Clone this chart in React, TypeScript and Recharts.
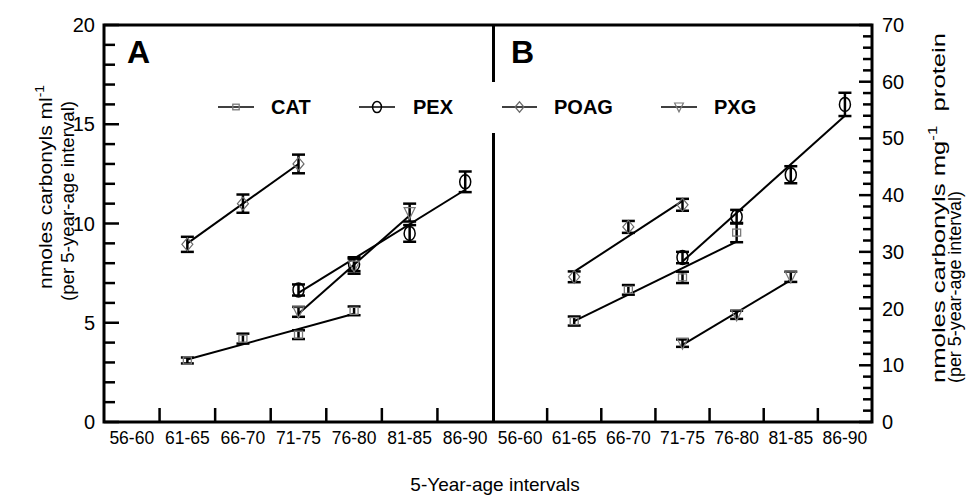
import React from "react";
import { ComposedChart, Line, XAxis, YAxis, ErrorBar } from "recharts";

const ageGroups = ["56-60", "61-65", "66-70", "71-75", "76-80", "81-85", "86-90"];
const seriesNames = ["CAT", "PEX", "POAG", "PXG"];

// panel A — nmoles carbonyls / ml, one slot per age group
const catA = [null, 3.1, 4.2, 4.4, 5.6, null, null];
const catAErr = [null, 0.15, 0.25, 0.22, 0.22, null, null];
const pexA = [null, null, null, 6.65, 7.95, 9.5, 12.1];
const pexAErr = [null, null, null, 0.28, 0.35, 0.42, 0.52];
const poagA = [null, 8.95, 11.0, 13.0, null, null, null];
const poagAErr = [null, 0.38, 0.46, 0.47, null, null, null];
const pxgA = [null, null, null, 5.55, 7.85, 10.55, null];
const pxgAErr = [null, null, null, 0.25, 0.38, 0.45, null];

// regression lines as drawn in panel A (end points only)
const catAFit = [null, 3.15, null, null, 5.45, null, null];
const pexAFit = [null, null, null, 6.5, null, null, 11.7];
const poagAFit = [null, 9.0, null, 13.0, null, null, null];
const pxgAFit = [null, null, null, 5.45, null, 10.4, null];

// panel B — nmoles carbonyls / mg protein
const catB = [null, 17.8, 23.3, 25.5, 33.4, null, null];
const catBErr = [null, 0.8, 0.85, 1.0, 1.7, null, null];
const pexB = [null, null, null, 29.0, 36.2, 43.6, 56.0];
const pexBErr = [null, null, null, 1.0, 1.2, 1.5, 2.05];
const poagB = [null, 25.6, 34.4, 38.3, null, null, null];
const poagBErr = [null, 0.95, 1.05, 1.05, null, null, null];
const pxgB = [null, null, null, 13.9, 18.9, 25.6, null];
const pxgBErr = [null, null, null, 0.65, 0.72, 0.9, null];

const catBFit = [null, 17.8, null, null, 31.8, null, null];
const pexBFit = [null, null, null, 28.3, null, null, 54.0];
const poagBFit = [null, 26.5, null, 39.0, null, null, null];
const pxgBFit = [null, null, null, 13.6, null, 25.0, null];

const leftTicks = Array.from({ length: 21 }, (_, i) => i);
const rightTicks = Array.from({ length: 36 }, (_, i) => i * 2);
const xTicks = [0.5, 1, 1.5, 2, 2.5, 3, 3.5, 4, 4.5, 5, 5.5, 6, 6.5];

const FONT = "'Liberation Sans', Arial, Helvetica, sans-serif";

function pts(vals: (number | null)[], errs?: (number | null)[]) {
  const out: { x: number; y: number; err: number }[] = [];
  vals.forEach((v, i) => {
    if (v != null) out.push({ x: i + 0.5, y: v, err: errs ? (errs[i] as number) : 0 });
  });
  return out;
}

function Marker({ kind, cx, cy, s = 1 }: { kind: string; cx: number; cy: number; s?: number }) {
  if (cx == null || cy == null) return null;
  if (kind === "CAT")
    return <rect x={cx - 4 * s} y={cy - 3.5 * s} width={8 * s} height={7 * s} fill="none" stroke="#7a7a7a" strokeWidth={1.3} />;
  if (kind === "PEX")
    return <ellipse cx={cx} cy={cy} rx={5.5 * s} ry={7 * s} fill="none" stroke="#000" strokeWidth={1.5} />;
  if (kind === "POAG")
    return (
      <path
        d={`M${cx - 5.5 * s},${cy} L${cx},${cy - 6.5 * s} L${cx + 5.5 * s},${cy} L${cx},${cy + 6.5 * s} Z`}
        fill="none"
        stroke="#6a6a6a"
        strokeWidth={1.2}
      />
    );
  return (
    <path
      d={`M${cx - 5.5 * s},${cy - 5 * s} L${cx + 5.5 * s},${cy - 5 * s} L${cx},${cy + 6 * s} Z`}
      fill="none"
      stroke="#7a7a7a"
      strokeWidth={1.2}
    />
  );
}

function XTick(p: any) {
  const v = p.payload.value;
  if (Number.isInteger(v)) {
    return <line x1={p.x} x2={p.x} y1={p.y} y2={p.y - 14} stroke="#000" strokeWidth={2.5} />;
  }
  return (
    <text x={p.x} y={p.y + 22} textAnchor="middle" fontFamily={FONT} fontSize={17.5} fill="#000">
      {ageGroups[Math.round(v - 0.5)]}
    </text>
  );
}

function LeftTick(p: any) {
  const v = p.payload.value;
  const major = v % 5 === 0;
  const x0 = p.x + 8;
  return (
    <g>
      <line x1={x0} x2={x0 + (major ? 15 : 11)} y1={p.y} y2={p.y} stroke="#000" strokeWidth={2.5} />
      {major && (
        <text x={p.x - 1} y={p.y + 7} textAnchor="end" fontFamily={FONT} fontSize={20} fill="#000">
          {v}
        </text>
      )}
    </g>
  );
}

function RightTick(p: any) {
  const v = p.payload.value;
  const major = v % 10 === 0;
  const x0 = p.x - 10;
  return (
    <g>
      <line x1={x0} x2={x0 - (major ? 13 : 9)} y1={p.y} y2={p.y} stroke="#000" strokeWidth={2.5} />
      {major && (
        <text x={p.x} y={p.y + 7} textAnchor="start" fontFamily={FONT} fontSize={20} fill="#000">
          {v}
        </text>
      )}
    </g>
  );
}

function markerSeries(kind: string, vals: (number | null)[], errs: (number | null)[]) {
  return (
    <Line
      key={kind + "-pts"}
      data={pts(vals, errs)}
      dataKey="y"
      type="linear"
      stroke="none"
      isAnimationActive={false}
      activeDot={false}
      dot={(d: any) => <Marker key={kind + d.index} kind={kind} cx={d.cx} cy={d.cy} />}
    >
      <ErrorBar dataKey="err" direction="y" width={6.5} stroke="#000" strokeWidth={2.5} />
    </Line>
  );
}

function fitSeries(kind: string, vals: (number | null)[]) {
  return (
    <Line
      key={kind + "-fit"}
      data={pts(vals)}
      dataKey="y"
      type="linear"
      stroke="#000"
      strokeWidth={2}
      dot={false}
      activeDot={false}
      isAnimationActive={false}
    />
  );
}

const legendPos = [
  { line: [218, 254], text: 271 },
  { line: [359, 395], text: 413 },
  { line: [502, 537], text: 554 },
  { line: [661, 697], text: 714 },
];

export default function App() {
  return (
    <div style={{ position: "absolute", left: 0, top: 0, width: 966, height: 498, background: "#fff" }}>
      <div style={{ position: "absolute", left: 0, top: 0 }}>
        <ComposedChart width={493} height={498} margin={{ top: 25, right: 0, bottom: 36, left: 0 }}>
          <XAxis
            dataKey="x"
            type="number"
            domain={[0, 7]}
            ticks={xTicks}
            interval={0}
            axisLine={false}
            tickLine={false}
            tickSize={0}
            tickMargin={0}
            height={40}
            tick={XTick}
          />
          <YAxis
            type="number"
            domain={[0, 20]}
            ticks={leftTicks}
            interval={0}
            axisLine={false}
            tickLine={false}
            tickSize={0}
            tickMargin={8}
            width={104}
            tick={LeftTick}
          />
          {markerSeries("CAT", catA, catAErr)}
          {markerSeries("PEX", pexA, pexAErr)}
          {markerSeries("POAG", poagA, poagAErr)}
          {markerSeries("PXG", pxgA, pxgAErr)}
          {fitSeries("CAT", catAFit)}
          {fitSeries("PEX", pexAFit)}
          {fitSeries("POAG", poagAFit)}
          {fitSeries("PXG", pxgAFit)}
        </ComposedChart>
      </div>
      <div style={{ position: "absolute", left: 493, top: 0 }}>
        <ComposedChart width={473} height={498} margin={{ top: 25, right: 0, bottom: 36, left: 0 }}>
          <XAxis
            dataKey="x"
            type="number"
            domain={[0, 7]}
            ticks={xTicks}
            interval={0}
            axisLine={false}
            tickLine={false}
            tickSize={0}
            tickMargin={0}
            height={40}
            tick={XTick}
          />
          <YAxis
            orientation="right"
            type="number"
            domain={[0, 70]}
            ticks={rightTicks}
            interval={0}
            axisLine={false}
            tickLine={false}
            tickSize={0}
            tickMargin={10}
            width={94}
            tick={RightTick}
          />
          {markerSeries("CAT", catB, catBErr)}
          {markerSeries("PEX", pexB, pexBErr)}
          {markerSeries("POAG", poagB, poagBErr)}
          {markerSeries("PXG", pxgB, pxgBErr)}
          {fitSeries("CAT", catBFit)}
          {fitSeries("PEX", pexBFit)}
          {fitSeries("POAG", poagBFit)}
          {fitSeries("PXG", pxgBFit)}
        </ComposedChart>
      </div>
      <svg width={966} height={498} style={{ position: "absolute", left: 0, top: 0, pointerEvents: "none" }}>
        {/* frame and panel divider */}
        <rect x={104} y={25} width={768} height={397} fill="none" stroke="#000" strokeWidth={3} />
        <line x1={493.5} x2={493.5} y1={25} y2={82} stroke="#000" strokeWidth={3} />
        <line x1={493.5} x2={493.5} y1={133} y2={422} stroke="#000" strokeWidth={3} />
        <text x={127} y={63} fontFamily={FONT} fontWeight="bold" fontSize={32}>A</text>
        <text x={511} y={63} fontFamily={FONT} fontWeight="bold" fontSize={32}>B</text>
        {/* legend */}
        {seriesNames.map((name, i) => {
          const lp = legendPos[i];
          const mid = (lp.line[0] + lp.line[1]) / 2;
          return (
            <g key={name}>
              <line x1={lp.line[0]} x2={lp.line[1]} y1={107} y2={107} stroke="#000" strokeWidth={1.5} />
              <Marker kind={name} cx={mid} cy={107} s={0.8} />
              <text x={lp.text} y={114} fontFamily={FONT} fontWeight="bold" fontSize={20}>{name}</text>
            </g>
          );
        })}
        {/* axis titles */}
        <text
          transform="translate(52,187) rotate(-90)"
          textAnchor="middle"
          fontFamily={FONT}
          fontSize={19}
          textLength={204}
          lengthAdjust="spacingAndGlyphs"
        >
          nmoles carbonyls ml<tspan dy={-8} fontSize={12.5}>-1</tspan>
        </text>
        <text
          transform="translate(74,201) rotate(-90)"
          textAnchor="middle"
          fontFamily={FONT}
          fontSize={19}
          textLength={200}
          lengthAdjust="spacingAndGlyphs"
        >
          (per 5-year-age interval)
        </text>
        <text
          transform="translate(945,383) rotate(-90)"
          textAnchor="start"
          fontFamily={FONT}
          fontSize={19}
          textLength={350}
          lengthAdjust="spacingAndGlyphs"
        >
          nmoles carbonyls mg<tspan dy={-8} fontSize={12.5}>-1</tspan>
          <tspan dy={8}>{"\u00a0\u00a0protein"}</tspan>
        </text>
        <text
          transform="translate(961,383) rotate(-90)"
          textAnchor="start"
          fontFamily={FONT}
          fontSize={19}
          textLength={192}
          lengthAdjust="spacingAndGlyphs"
        >
          (per 5-year-age interval)
        </text>
        <text x={495} y={491} textAnchor="middle" fontFamily={FONT} fontSize={19}>
          5-Year-age intervals
        </text>
      </svg>
    </div>
  );
}
